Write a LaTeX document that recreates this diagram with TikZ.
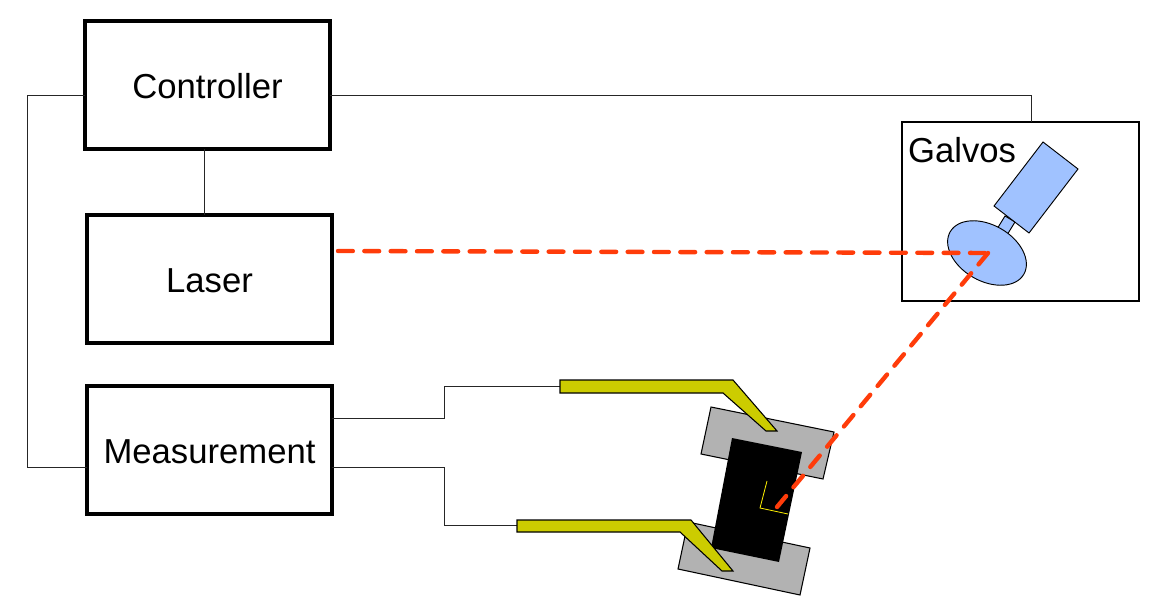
\documentclass[tikz,border=0pt]{standalone}
\usepackage{xcolor}
\usepackage{fontspec}
\setmainfont{Liberation Sans}
\usepackage{tikz}
\usetikzlibrary{calc}

\definecolor{galvoblue}{HTML}{A0C2FF}
\definecolor{probeyellow}{HTML}{CCCC00}
\definecolor{stagegray}{HTML}{B2B2B2}
\definecolor{beamred}{HTML}{FF3C0A}

\tikzset{
  unitbox/.style={draw, rectangle, line width=2.5pt, outer sep=0pt, minimum width=183.75pt, minimum height=96pt, align=center, text height=20.8pt, text depth=0pt, font=\fontsize{26}{30}\selectfont},
  wire/.style={draw, line width=0.55pt, black!85},
  beam/.style={draw=beamred, line width=3.3pt, line cap=round, dash pattern=on 11.1pt off 8.65pt},
  galvopart/.style={draw, line width=0.7pt, fill=galvoblue},
  stagepart/.style={draw, line width=0.8pt, fill=stagegray},
  probe/.style={draw, line width=0.8pt, fill=probeyellow}
}

\begin{document}
\begin{tikzpicture}[x=0.75pt, y=-0.75pt]
\useasboundingbox (0,0) rectangle (1176,609);

\node[unitbox] (controller) at (207.5,85) {Controller};
\node[unitbox] (laser) at (209.5,279) {Laser};
\node[unitbox] (measurement) at (209.5,450) {Measurement};
\node[draw, rectangle, line width=2pt, outer sep=0pt, minimum width=177.75pt, minimum height=134.25pt] (galvos) at (1020.5,211.5) {};
\node[font=\fontsize{26}{30}\selectfont] (galvoslabel) at (962,150) {Galvos};

\coordinate (busTop) at (27,95);
\coordinate (busBottom) at (27,467);
\coordinate (tap) at (204,180);
\coordinate (galvoTap) at (1031,95);
\coordinate (jogA) at (444,418);
\coordinate (jogB) at (444,467);
\coordinate (probeA) at (560,386.5);
\coordinate (probeB) at (517,525.5);
\coordinate (beamStart) at (338,251);
\coordinate (mirrorSpot) at (988,253);
\coordinate (sampleSpot) at (777,507);

\draw[wire] (busTop -| controller.west) -- (busTop) -- (busBottom) -- (busBottom -| measurement.west);
\draw[wire] (tap |- controller.south) -- (tap |- laser.north);
\draw[wire] (galvoTap -| controller.east) -- (galvoTap) -- (galvoTap |- galvos.north);
\draw[wire] (jogA -| measurement.east) -- (jogA) -- (jogA |- probeA) -- (probeA);
\draw[wire] (jogB -| measurement.east) -- (jogB) -- (jogB |- probeB) -- (probeB);

\draw[galvopart] (1005,216) -- (1015,222) -- (1007,235) -- (997,229) -- cycle;
\draw[galvopart] (1043,142) -- (1078,169) -- (1029,233) -- (994,206) -- cycle;
\draw[galvopart] (987,253) ellipse [x radius=42.5, y radius=28, rotate=-30];

\draw[stagepart] (711,407) -- (834,432) -- (823,479) -- (701,454) -- cycle;
\draw[stagepart] (688,522) -- (810,548) -- (800,595) -- (678,569) -- cycle;
\fill[black] (732,438) -- (802,452) -- (779,562) -- (711,548) -- cycle;
\draw[yellow, line width=0.6pt] (767,481) -- (760,508) -- (788,514);

\draw[probe] (560,380) -- (733,380) -- (777,431) -- (766,431) -- (723,393) -- (560,393) -- cycle;
\draw[probe] (517,520) -- (691,520) -- (733,571) -- (722,571) -- (680,532) -- (517,532) -- cycle;

\draw[beam] (beamStart) -- (mirrorSpot);
\draw[beam] (mirrorSpot) -- (sampleSpot);
\end{tikzpicture}
\end{document}
